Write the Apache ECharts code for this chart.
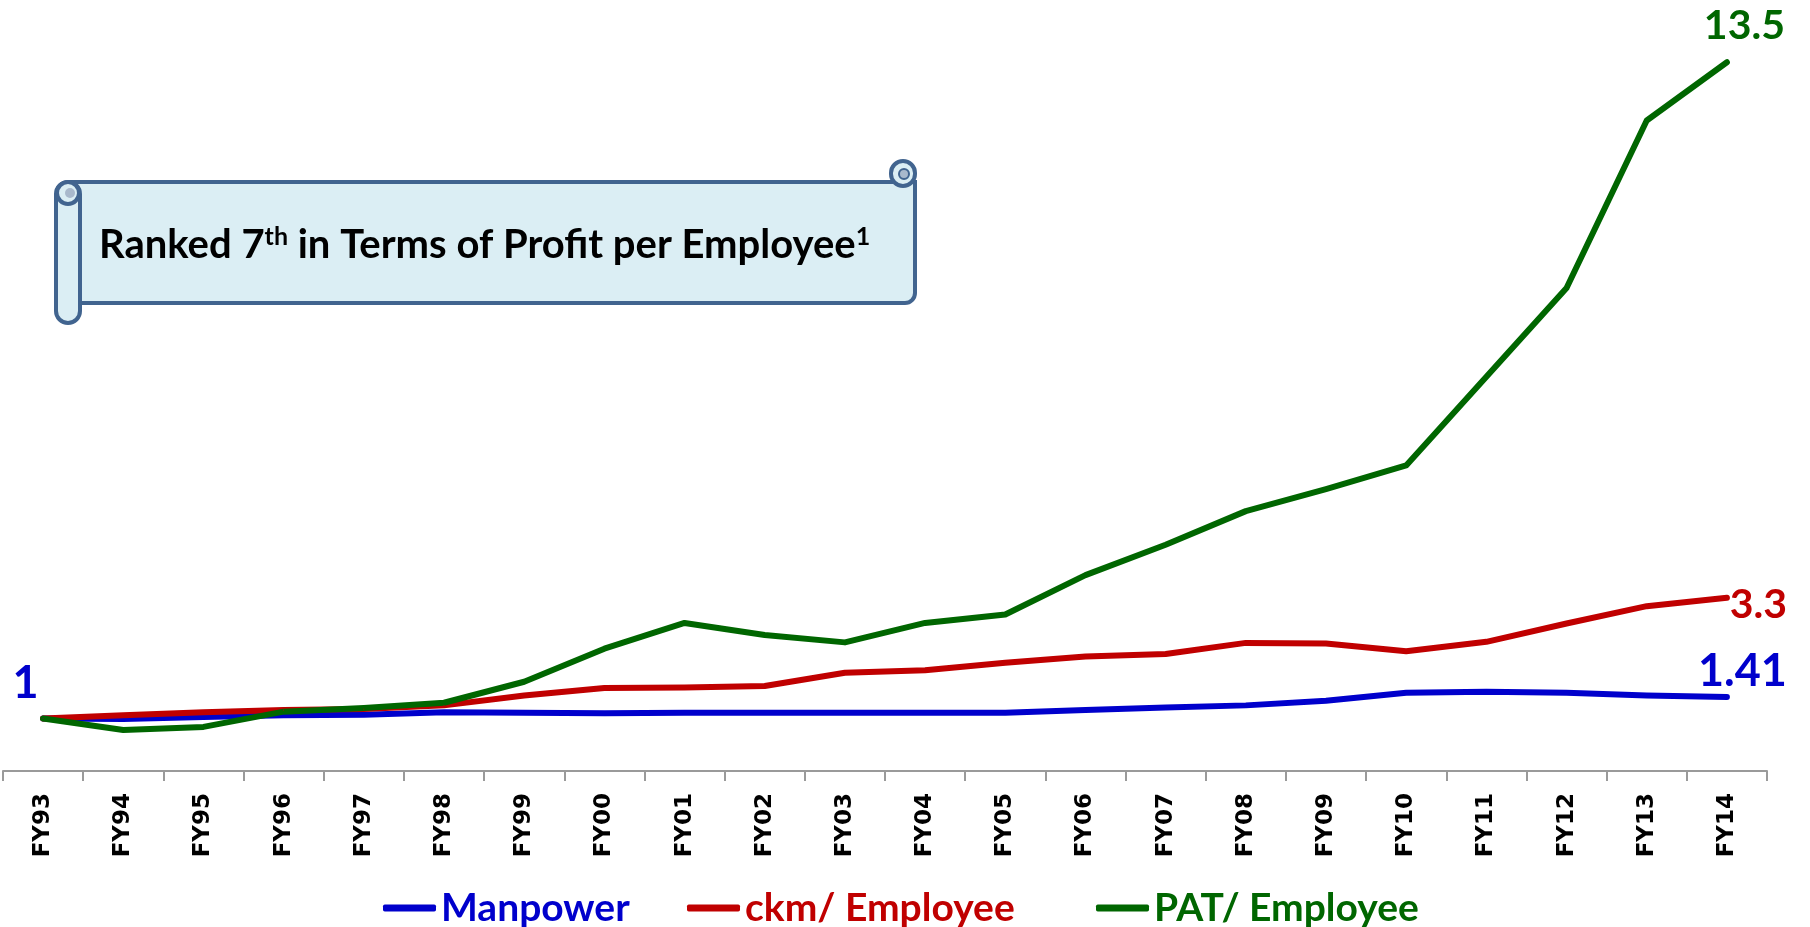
<!DOCTYPE html>
<html>
<head>
<meta charset="utf-8">
<script src="https://cdn.jsdelivr.net/npm/echarts@6/dist/echarts.min.js"></script>
<style>
html,body{margin:0;padding:0;background:#fff;}
#chart{width:1810px;height:927px;}
</style>
</head>
<body>
<div id="chart"></div>
<script>
var categories = ['FY93','FY94','FY95','FY96','FY97','FY98','FY99','FY00','FY01','FY02','FY03','FY04','FY05','FY06','FY07','FY08','FY09','FY10','FY11','FY12','FY13','FY14'];
var manpower = [1, 0.99, 1.03, 1.06, 1.07, 1.12, 1.11, 1.10, 1.11, 1.11, 1.11, 1.11, 1.11, 1.16, 1.21, 1.25, 1.34, 1.49, 1.51, 1.49, 1.44, 1.41];
var ckmPerEmployee = [1, 1.06, 1.12, 1.16, 1.18, 1.25, 1.44, 1.58, 1.59, 1.62, 1.87, 1.92, 2.06, 2.18, 2.23, 2.44, 2.43, 2.28, 2.46, 2.81, 3.14, 3.3];
var patPerEmployee = [1, 0.78, 0.84, 1.13, 1.20, 1.30, 1.70, 2.33, 2.82, 2.59, 2.45, 2.82, 2.98, 3.73, 4.31, 4.95, 5.37, 5.82, 7.51, 9.2, 12.39, 13.5];
var seriesNames = ['Manpower', 'ckm/ Employee', 'PAT/ Employee'];
var annotationText = ['Ranked 7', 'th', ' in Terms of Profit per Employee', '1'];

var BLUE = '#0000CC', RED = '#C00000', GREEN = '#006600';
var FONT = 'Lato, "Open Sans", sans-serif';

function withLabels(values, labelMap) {
  return values.map(function (v, i) {
    if (labelMap[i]) {
      return { value: v, label: Object.assign({ show: true }, labelMap[i]) };
    }
    return v;
  });
}
function lbl(color, size, pos) {
  return { color: color, fontSize: size, fontWeight: 'bold', fontFamily: FONT,
           position: pos, align: 'center', verticalAlign: 'middle',
           formatter: function (p) { return String(p.value); } };
}

var chart = echarts.init(document.getElementById('chart'));
function lineSeries(name, color, data) {
  return {
    name: name, type: 'line', data: data,
    symbol: 'circle', symbolSize: 1, showSymbol: true,
    itemStyle: { color: color },
    lineStyle: { color: color, width: 6, cap: 'round', join: 'round' },
    label: { show: false },
    emphasis: { disabled: true },
    animation: false
  };
}
function legendAt(name, color, left) {
  return {
    data: [name], left: left, top: 882, icon: 'roundRect',
    itemWidth: 53, itemHeight: 7, itemGap: 0,
    textStyle: { color: color, fontSize: 39, fontWeight: 'bold', fontFamily: FONT, lineHeight: 42 },
    selectedMode: false
  };
}

var option = {
  backgroundColor: '#ffffff',
  animation: false,
  grid: { left: 3, right: 43, top: 36, bottom: 156, containLabel: false },
  xAxis: {
    type: 'category', data: categories, boundaryGap: true,
    axisLine: { show: true, lineStyle: { color: '#9a9a9a', width: 2 } },
    axisTick: { show: true, length: 10, alignWithLabel: false, lineStyle: { color: '#9a9a9a', width: 2 } },
    axisLabel: { rotate: 90, margin: 22, color: '#000', fontSize: 23, fontWeight: 'bold',
                 fontFamily: '"DejaVu Sans", Verdana, sans-serif', interval: 0 }
  },
  yAxis: { type: 'value', min: 0, max: 14, show: false, splitLine: { show: false } },
  legend: [
    legendAt(seriesNames[0], BLUE, 378),
    legendAt(seriesNames[1], RED, 682),
    legendAt(seriesNames[2], GREEN, 1091)
  ],
  series: [
    lineSeries(seriesNames[0], BLUE, withLabels(manpower, {
      0: lbl(BLUE, 45, [-17, -35]),
      21: lbl(BLUE, 45, [16, -25])
    })),
    lineSeries(seriesNames[1], RED, withLabels(ckmPerEmployee, {
      21: lbl(RED, 41, [32, 8])
    })),
    lineSeries(seriesNames[2], GREEN, withLabels(patPerEmployee, {
      21: lbl(GREEN, 41, [18, -36])
    }))
  ],
  graphic: [
    { type: 'rect', z: 10, shape: { x: 68, y: 182, width: 847, height: 121, r: [0, 0, 10, 0] },
      style: { fill: '#DBEEF4', stroke: '#41648F', lineWidth: 4 } },
    { type: 'rect', z: 11, shape: { x: 891, y: 161, width: 24, height: 25, r: 12 },
      style: { fill: '#DBEEF4', stroke: '#41648F', lineWidth: 4 } },
    { type: 'circle', z: 12, shape: { cx: 904, cy: 174, r: 5 },
      style: { fill: '#A9B9CC', stroke: '#41648F', lineWidth: 2 } },
    { type: 'rect', z: 11, shape: { x: 56, y: 182, width: 24, height: 141, r: 12 },
      style: { fill: '#DBEEF4', stroke: '#41648F', lineWidth: 4 } },
    { type: 'circle', z: 12, shape: { cx: 68, cy: 193, r: 11 },
      style: { fill: '#DBEEF4', stroke: '#41648F', lineWidth: 4 } },
    { type: 'circle', z: 13, shape: { cx: 70, cy: 193, r: 5 },
      style: { fill: '#A9B9CC', stroke: null } },
    { type: 'text', z: 20, x: 99, y: 245,
      style: {
        text: '{a|' + annotationText[0] + '}{s|' + annotationText[1] + '}{a|' + annotationText[2] + '}{s|' + annotationText[3] + '}',
        verticalAlign: 'middle', align: 'left',
        rich: {
          a: { fontSize: 40, fontWeight: 'bold', fontFamily: FONT, fill: '#000', color: '#000', lineHeight: 42 },
          s: { fontSize: 25, fontWeight: 'bold', fontFamily: FONT, fill: '#000', color: '#000', lineHeight: 25, verticalAlign: 'top' }
        }
      } }
  ]
};
chart.setOption(option);
</script>
</body>
</html>
